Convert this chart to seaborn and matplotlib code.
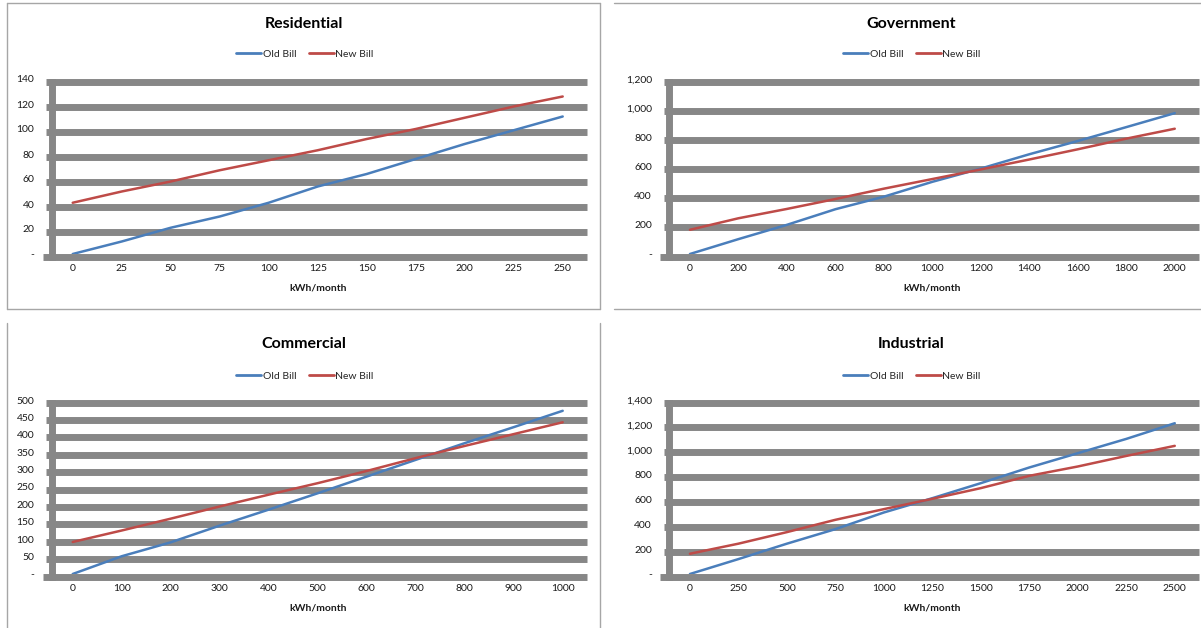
import matplotlib
matplotlib.use("Agg")
import numpy as np
import pandas as pd
import seaborn as sns
import matplotlib.pyplot as plt
from matplotlib.lines import Line2D
import matplotlib.transforms as mtransforms

# ---------------- data ----------------
series_names = ["Old Bill", "New Bill"]

res_x = [0, 25, 50, 75, 100, 125, 150, 175, 200, 225, 250]
res_old = [0, 10, 21, 30, 41, 54, 64, 76, 88, 99, 110]
res_new = [41, 50, 58, 67, 75, 83, 92, 100, 109, 118, 126]
res_yticks = [0, 20, 40, 60, 80, 100, 120, 140]

gov_x = [0, 200, 400, 600, 800, 1000, 1200, 1400, 1600, 1800, 2000]
gov_old = [0, 102, 200, 307, 393, 495, 586, 684, 775, 870, 966]
gov_new = [166, 245, 309, 377, 448, 514, 580, 648, 718, 791, 859]
gov_yticks = [0, 200, 400, 600, 800, 1000, 1200]

com_x = [0, 100, 200, 300, 400, 500, 600, 700, 800, 900, 1000]
com_old = [0, 51, 91, 139, 185, 232, 280, 328, 376, 422, 469]
com_new = [92, 125, 159, 194, 228, 261, 296, 333, 368, 402, 436]
com_yticks = [0, 50, 100, 150, 200, 250, 300, 350, 400, 450, 500]

ind_x = [0, 250, 500, 750, 1000, 1250, 1500, 1750, 2000, 2250, 2500]
ind_old = [0, 120, 244, 361, 495, 610, 731, 857, 972, 1087, 1213]
ind_new = [163, 244, 337, 436, 522, 605, 691, 790, 865, 950, 1031]
ind_yticks = [0, 200, 400, 600, 800, 1000, 1200, 1400]

titles = ["Residential", "Government", "Commercial", "Industrial"]
x_label = "kWh/month"

# ---------------- style ----------------
BLUE = "#4A7EBB"
RED = "#BE4B48"
GRID = "#878787"
BORDER = "#A6A6A6"

sns.set_theme(style="white")
plt.rcParams["font.family"] = ["Lato", "DejaVu Sans"]

W, H = 1201, 628
fig = plt.figure(figsize=(W / 100, H / 100), dpi=100)


def fmt(v):
    return "-" if v == 0 else f"{v:,}"


# layout in pixels: left, right, top(max value), bottom(0), title(x,y), legend(x,y), xlabel y
layout = [
    dict(l=48.2, r=587.2, t=79, b=254, tx=304, ty=24, lx=305, ly=54, xly=288),
    dict(l=665.7, r=1199, t=79, b=254, tx=911, ty=24, lx=912, ly=54, xly=288),
    dict(l=48.2, r=587.2, t=400, b=574, tx=304, ty=344, lx=305, ly=376, xly=608),
    dict(l=665.7, r=1199, t=400, b=574, tx=911, ty=344, lx=912, ly=376, xly=608),
]
data = [
    (res_x, res_old, res_new, res_yticks),
    (gov_x, gov_old, gov_new, gov_yticks),
    (com_x, com_old, com_new, com_yticks),
    (ind_x, ind_old, ind_new, ind_yticks),
]

for title, lay, (xs, old, new, yt) in zip(titles, layout, data):
    ax = fig.add_axes([lay["l"] / W, 1 - lay["b"] / H,
                       (lay["r"] - lay["l"]) / W, (lay["b"] - lay["t"]) / H])
    ax.patch.set_alpha(0)
    n = len(xs)
    df = pd.DataFrame({
        "idx": list(range(n)) * 2,
        "value": old + new,
        "series": [series_names[0]] * n + [series_names[1]] * n,
    })
    sns.lineplot(data=df, x="idx", y="value", hue="series",
                 hue_order=series_names,
                 palette={series_names[0]: BLUE, series_names[1]: RED},
                 linewidth=1.8, ax=ax, legend=False, zorder=4)
    ax.set_xlim(-0.5, n - 0.5)
    ax.set_ylim(0, yt[-1])

    axw = lay["r"] - lay["l"]
    off = mtransforms.ScaledTranslation(0, -2.5 / 100, fig.dpi_scale_trans)
    trg = ax.get_yaxis_transform() + off
    for v in yt:
        x0 = -5.5 / axw if v == 0 else -2.0 / axw
        ax.add_line(Line2D([x0, 1.0], [v, v], transform=trg, color=GRID,
                           lw=5.0, solid_capstyle="butt", clip_on=False, zorder=1))
    tra = ax.transData + mtransforms.ScaledTranslation(3.5 / 100, -2.5 / 100, fig.dpi_scale_trans)
    ax.add_line(Line2D([-0.5, -0.5], [0, yt[-1]], transform=tra, color=GRID,
                       lw=5.0, solid_capstyle="projecting", clip_on=False, zorder=2))

    ax.set_yticks(yt)
    ax.set_yticklabels([fmt(v) for v in yt])
    ax.set_xticks(range(n))
    ax.set_xticklabels([str(v) for v in xs])
    ax.tick_params(axis="y", length=0, pad=10, labelsize=7.5, labelcolor="#1a1a1a")
    ax.tick_params(axis="x", length=0, pad=7, labelsize=7.5, labelcolor="#1a1a1a")
    ax.set_xlabel("")
    ax.set_ylabel("")
    ax.grid(False)
    for s in ax.spines.values():
        s.set_visible(False)

    fig.text(lay["tx"] / W, 1 - lay["ty"] / H, title, ha="center", va="center",
             fontsize=11.5, fontweight="bold", color="#000000")
    fig.text(((lay["l"] + lay["r"]) / 2) / W, 1 - lay["xly"] / H, x_label,
             ha="center", va="center", fontsize=7.5, fontweight="bold", color="#1a1a1a")

    handles = [Line2D([], [], color=BLUE, lw=2.0), Line2D([], [], color=RED, lw=2.0)]
    ax.legend(handles, series_names, loc="center",
              bbox_to_anchor=(lay["lx"] / W, 1 - lay["ly"] / H),
              bbox_transform=fig.transFigure, ncol=2, frameon=False,
              fontsize=7.5, handlelength=2.4, handletextpad=0.15,
              columnspacing=1.2, borderpad=0, borderaxespad=0)


def fline(x0, y0, x1, y1):
    fig.add_artist(Line2D([x0 / W, x1 / W], [1 - y0 / H, 1 - y1 / H],
                          color=BORDER, lw=1.0))


# panel borders
fline(6.5, 3, 600, 3)
fline(6.5, 309, 600, 309)
fline(6.5, 3, 6.5, 309)
fline(600, 3, 600, 309)
fline(614, 3, 1201, 3)
fline(614, 309, 1201, 309)
fline(6.5, 323, 6.5, 628)
fline(600, 323, 600, 628)

fig.savefig("out.png", dpi=100)
